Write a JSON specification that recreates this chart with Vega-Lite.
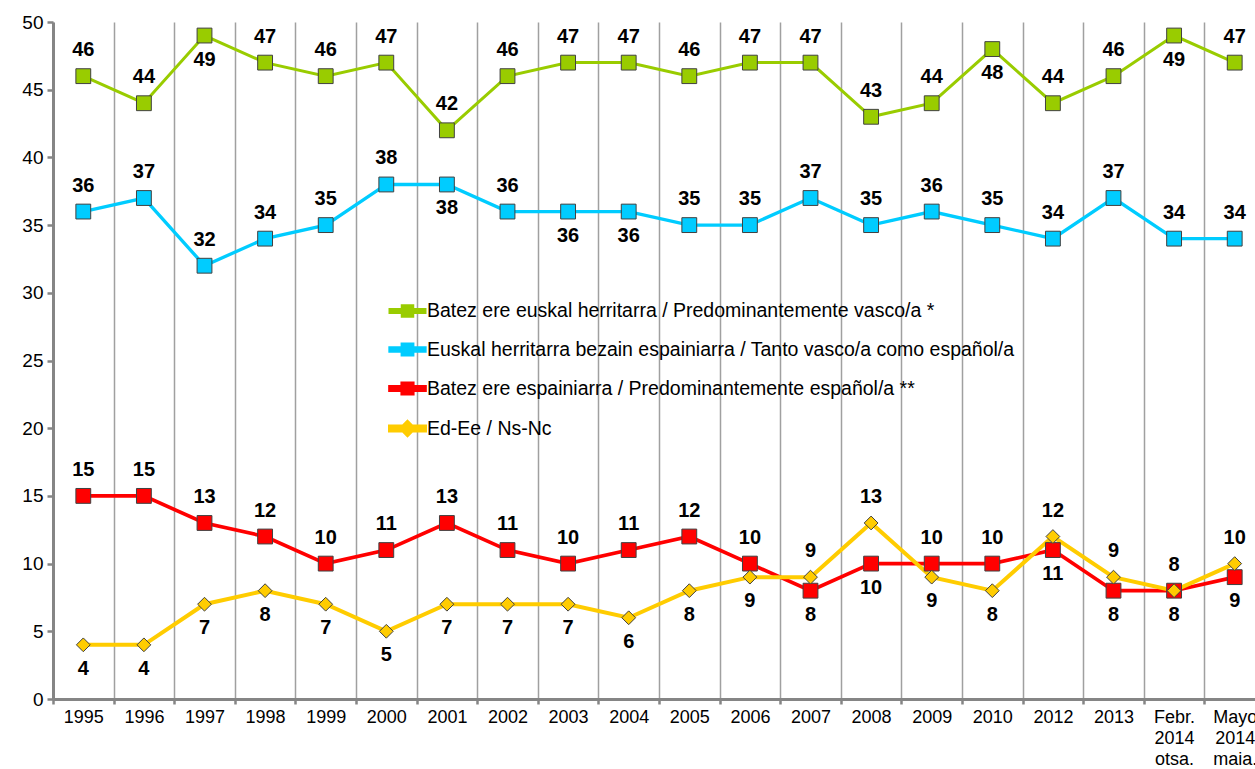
{
  "$schema": "https://vega.github.io/schema/vega-lite/v6.json",
  "width": 1212,
  "height": 677,
  "autosize": {"type": "none"},
  "padding": {"left": 53, "top": 22, "right": 0, "bottom": 70},
  "background": "white",
  "config": {"view": {"stroke": null}, "font": "Liberation Sans"},
  "data": {"values": [
    {"x":"1995","s":"A","v":46,"p":"a"},{"x":"1996","s":"A","v":44,"p":"a"},{"x":"1997","s":"A","v":49,"p":"b"},{"x":"1998","s":"A","v":47,"p":"a"},{"x":"1999","s":"A","v":46,"p":"a"},{"x":"2000","s":"A","v":47,"p":"a"},{"x":"2001","s":"A","v":42,"p":"a"},{"x":"2002","s":"A","v":46,"p":"a"},{"x":"2003","s":"A","v":47,"p":"a"},{"x":"2004","s":"A","v":47,"p":"a"},{"x":"2005","s":"A","v":46,"p":"a"},{"x":"2006","s":"A","v":47,"p":"a"},{"x":"2007","s":"A","v":47,"p":"a"},{"x":"2008","s":"A","v":43,"p":"a"},{"x":"2009","s":"A","v":44,"p":"a"},{"x":"2010","s":"A","v":48,"p":"b"},{"x":"2012","s":"A","v":44,"p":"a"},{"x":"2013","s":"A","v":46,"p":"a"},{"x":"Febr. 2014 otsa.","s":"A","v":49,"p":"b"},{"x":"Mayo 2014 maia.","s":"A","v":47,"p":"a"},
    {"x":"1995","s":"B","v":36,"p":"a"},{"x":"1996","s":"B","v":37,"p":"a"},{"x":"1997","s":"B","v":32,"p":"a"},{"x":"1998","s":"B","v":34,"p":"a"},{"x":"1999","s":"B","v":35,"p":"a"},{"x":"2000","s":"B","v":38,"p":"a"},{"x":"2001","s":"B","v":38,"p":"b"},{"x":"2002","s":"B","v":36,"p":"a"},{"x":"2003","s":"B","v":36,"p":"b"},{"x":"2004","s":"B","v":36,"p":"b"},{"x":"2005","s":"B","v":35,"p":"a"},{"x":"2006","s":"B","v":35,"p":"a"},{"x":"2007","s":"B","v":37,"p":"a"},{"x":"2008","s":"B","v":35,"p":"a"},{"x":"2009","s":"B","v":36,"p":"a"},{"x":"2010","s":"B","v":35,"p":"a"},{"x":"2012","s":"B","v":34,"p":"a"},{"x":"2013","s":"B","v":37,"p":"a"},{"x":"Febr. 2014 otsa.","s":"B","v":34,"p":"a"},{"x":"Mayo 2014 maia.","s":"B","v":34,"p":"a"},
    {"x":"1995","s":"C","v":15,"p":"a"},{"x":"1996","s":"C","v":15,"p":"a"},{"x":"1997","s":"C","v":13,"p":"a"},{"x":"1998","s":"C","v":12,"p":"a"},{"x":"1999","s":"C","v":10,"p":"a"},{"x":"2000","s":"C","v":11,"p":"a"},{"x":"2001","s":"C","v":13,"p":"a"},{"x":"2002","s":"C","v":11,"p":"a"},{"x":"2003","s":"C","v":10,"p":"a"},{"x":"2004","s":"C","v":11,"p":"a"},{"x":"2005","s":"C","v":12,"p":"a"},{"x":"2006","s":"C","v":10,"p":"a"},{"x":"2007","s":"C","v":8,"p":"b"},{"x":"2008","s":"C","v":10,"p":"b"},{"x":"2009","s":"C","v":10,"p":"a"},{"x":"2010","s":"C","v":10,"p":"a"},{"x":"2012","s":"C","v":11,"p":"b"},{"x":"2013","s":"C","v":8,"p":"b"},{"x":"Febr. 2014 otsa.","s":"C","v":8,"p":"b"},{"x":"Mayo 2014 maia.","s":"C","v":9,"p":"b"},
    {"x":"1995","s":"D","v":4,"p":"b"},{"x":"1996","s":"D","v":4,"p":"b"},{"x":"1997","s":"D","v":7,"p":"b"},{"x":"1998","s":"D","v":8,"p":"b"},{"x":"1999","s":"D","v":7,"p":"b"},{"x":"2000","s":"D","v":5,"p":"b"},{"x":"2001","s":"D","v":7,"p":"b"},{"x":"2002","s":"D","v":7,"p":"b"},{"x":"2003","s":"D","v":7,"p":"b"},{"x":"2004","s":"D","v":6,"p":"b"},{"x":"2005","s":"D","v":8,"p":"b"},{"x":"2006","s":"D","v":9,"p":"b"},{"x":"2007","s":"D","v":9,"p":"a"},{"x":"2008","s":"D","v":13,"p":"a"},{"x":"2009","s":"D","v":9,"p":"b"},{"x":"2010","s":"D","v":8,"p":"b"},{"x":"2012","s":"D","v":12,"p":"a"},{"x":"2013","s":"D","v":9,"p":"a"},{"x":"Febr. 2014 otsa.","s":"D","v":8,"p":"a"},{"x":"Mayo 2014 maia.","s":"D","v":10,"p":"a"}
  ]},
  "encoding": {
    "x": {"field": "x", "type": "nominal", "sort": null,
      "scale": {"type": "band", "paddingInner": 0, "paddingOuter": 0},
      "axis": {"title": null, "labelAngle": 0, "labelFontSize": 18, "labelColor": "#000", "labelExpr": "split(datum.label, ' ')", "labelLineHeight": 21, "labelPadding": 4, "tickBand": "extent", "grid": true, "gridColor": "#a0a0a0", "gridWidth": 1.5, "domainColor": "#858585", "domainWidth": 3, "tickColor": "#858585", "tickWidth": 2.5, "tickSize": 5}},
    "y": {"field": "v", "type": "quantitative",
      "scale": {"domain": [0, 50], "nice": false, "zero": true},
      "axis": {"title": null, "values": [0,5,10,15,20,25,30,35,40,45,50], "grid": false, "labelFontSize": 19, "labelColor": "#000", "labelPadding": 4, "domainColor": "#858585", "domainWidth": 3, "tickColor": "#858585", "tickWidth": 2.5, "tickSize": 6}}
  },
  "layer": [
    {"mark": {"type": "line"},
     "encoding": {
       "color": {"field": "s", "type": "nominal",
         "scale": {"domain": ["A","B","C","D"], "range": ["#99CC00","#00CCFF","#FF0000","#FFCC00"]},
         "legend": {"orient": "none", "legendX": 335, "legendY": 270, "title": null, "direction": "vertical",
           "labelExpr": "datum.value == 'A' ? 'Batez ere euskal herritarra / Predominantemente vasco/a *' : datum.value == 'B' ? 'Euskal herritarra bezain espainiarra / Tanto vasco/a como español/a' : datum.value == 'C' ? 'Batez ere espainiarra / Predominantemente español/a **' : 'Ed-Ee / Ns-Nc'",
           "labelFontSize": 19.5, "labelColor": "#000", "labelFont": "Liberation Sans", "labelOffset": 0, "labelLimit": 0,
           "symbolSize": 1225, "rowPadding": 7, "symbolStrokeWidth": 0,
           "symbolType": "M-1,-0.09H1V0.09H-1Z M-0.3,-0.3H0.3V0.3H-0.3Z",
           "encode": {"symbols": {"update": {
             "shape": {"signal": "datum.value == 'D' ? 'M-1,-0.12H1V0.12H-1Z M0,-0.36L0.36,0L0,0.36L-0.36,0Z' : 'M-1,-0.09H1V0.09H-1Z M-0.3,-0.3H0.3V0.3H-0.3Z'"},
             "fill": {"scale": "color", "field": "value"},
             "strokeWidth": {"value": 0}
           }}}}},
       "strokeWidth": {"field": "s", "type": "nominal", "scale": {"domain": ["A","B","C","D"], "range": [3, 4, 5, 5]}, "legend": null}
     }},
    {"transform": [{"filter": "datum.s != 'D'"}],
     "mark": {"type": "point", "shape": "square", "size": 220, "filled": true, "opacity": 1, "stroke": "#404040", "strokeWidth": 1},
     "encoding": {
       "fill": {"field": "s", "type": "nominal", "scale": {"domain": ["A","B","C","D"], "range": ["#99CC00","#00CCFF","#FF0000","#FFCC00"]}, "legend": null}
     }},
    {"transform": [{"filter": "datum.s == 'D'"}],
     "mark": {"type": "point", "shape": "diamond", "size": 190, "filled": true, "opacity": 1, "stroke": "#404040", "strokeWidth": 1},
     "encoding": {
       "fill": {"field": "s", "type": "nominal", "legend": null}
     }},
    {"transform": [{"filter": "datum.p == 'a'"}],
     "mark": {"type": "text", "dy": -26, "fontSize": 20, "fontWeight": "bold", "color": "#000"},
     "encoding": {"text": {"field": "v", "type": "quantitative"}}},
    {"transform": [{"filter": "datum.p == 'b'"}],
     "mark": {"type": "text", "dy": 24, "fontSize": 20, "fontWeight": "bold", "color": "#000"},
     "encoding": {"text": {"field": "v", "type": "quantitative"}}}
  ]
}
